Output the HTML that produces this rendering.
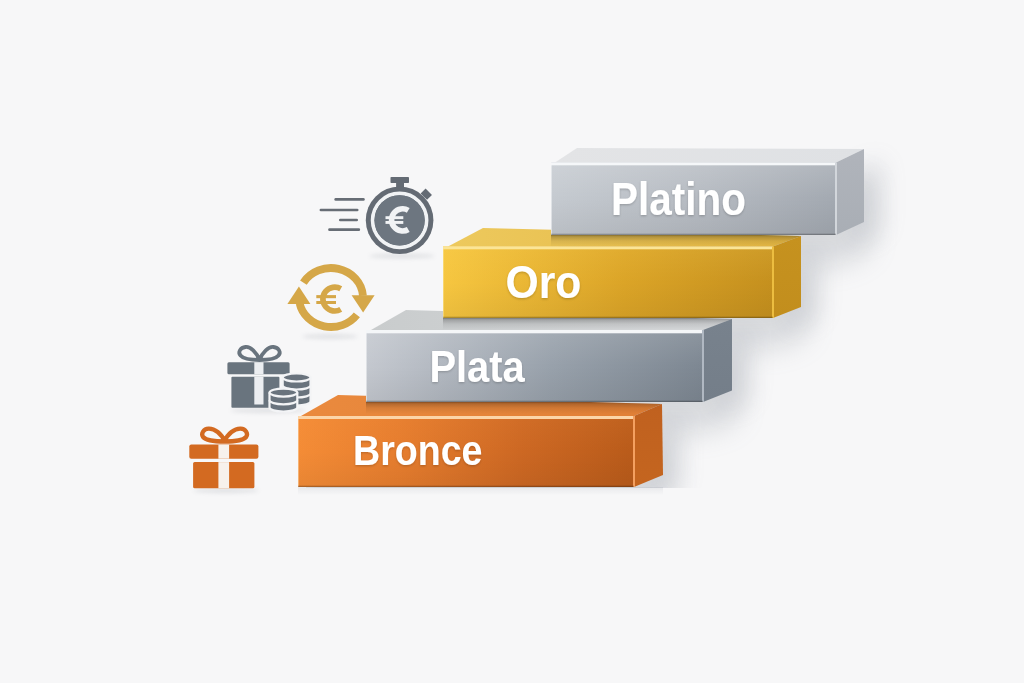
<!DOCTYPE html>
<html><head><meta charset="utf-8">
<style>
html,body{margin:0;padding:0;width:1024px;height:683px;overflow:hidden;background:#f7f7f8;}
svg{display:block;position:absolute;left:0;top:0;}
text{font-family:"Liberation Sans",sans-serif;font-weight:bold;fill:#ffffff;}
</style></head>
<body>
<svg width="1024" height="683" viewBox="0 0 1024 683">
<defs>
<linearGradient id="bronceF" x1="0" y1="0" x2="1" y2="0"><stop offset="0" stop-color="#f48c36"/><stop offset="0.3" stop-color="#e67d2e"/><stop offset="0.66" stop-color="#cd6823"/><stop offset="1" stop-color="#b95b1a"/></linearGradient>
<linearGradient id="bronceV" x1="0" y1="0" x2="0" y2="1"><stop offset="0" stop-color="#ffa050" stop-opacity="0.1"/><stop offset="0.5" stop-color="#ffa050" stop-opacity="0"/><stop offset="0.5" stop-color="#000" stop-opacity="0"/><stop offset="1" stop-color="#000" stop-opacity="0.05"/></linearGradient>
<linearGradient id="bronceT" x1="0" y1="0" x2="1" y2="0"><stop offset="0" stop-color="#ea8a3e"/><stop offset="1" stop-color="#e07f35"/></linearGradient>
<linearGradient id="bronceR" x1="0" y1="0" x2="0" y2="1"><stop offset="0" stop-color="#c0611f"/><stop offset="1" stop-color="#c4651f"/></linearGradient>
<clipPath id="bronceSC"><rect x="306" y="0" width="726" height="488"/></clipPath>
<linearGradient id="plataF" x1="0" y1="0" x2="1" y2="0"><stop offset="0" stop-color="#c4c8cf"/><stop offset="0.55" stop-color="#98a1ab"/><stop offset="1" stop-color="#7d8792"/></linearGradient>
<linearGradient id="plataV" x1="0" y1="0" x2="0" y2="1"><stop offset="0" stop-color="#fff" stop-opacity="0.12"/><stop offset="0.5" stop-color="#fff" stop-opacity="0"/><stop offset="0.5" stop-color="#000" stop-opacity="0"/><stop offset="1" stop-color="#000" stop-opacity="0.06"/></linearGradient>
<linearGradient id="plataT" x1="0" y1="0" x2="1" y2="0"><stop offset="0" stop-color="#c9cccd"/><stop offset="1" stop-color="#d6d8da"/></linearGradient>
<linearGradient id="plataR" x1="0" y1="0" x2="0" y2="1"><stop offset="0" stop-color="#78828d"/><stop offset="1" stop-color="#747e89"/></linearGradient>
<clipPath id="plataSC"><rect x="374" y="0" width="658" height="488"/></clipPath>
<clipPath id="bronceC"><polygon points="301,416 338,395 662,404 634,416"/></clipPath>
<linearGradient id="plataCS" x1="0" y1="0" x2="0" y2="1"><stop offset="0" stop-color="#000" stop-opacity="0.42"/><stop offset="0.15" stop-color="#000" stop-opacity="0.22"/><stop offset="0.5" stop-color="#000" stop-opacity="0.08"/><stop offset="1" stop-color="#000" stop-opacity="0"/></linearGradient>
<linearGradient id="oroF" x1="0" y1="0" x2="1" y2="0"><stop offset="0" stop-color="#f6c640"/><stop offset="0.55" stop-color="#dba427"/><stop offset="1" stop-color="#c5901e"/></linearGradient>
<linearGradient id="oroV" x1="0" y1="0" x2="0" y2="1"><stop offset="0" stop-color="#ffd860" stop-opacity="0.16"/><stop offset="0.5" stop-color="#ffd860" stop-opacity="0"/><stop offset="0.5" stop-color="#000" stop-opacity="0"/><stop offset="1" stop-color="#000" stop-opacity="0.05"/></linearGradient>
<linearGradient id="oroT" x1="0" y1="0" x2="1" y2="0"><stop offset="0" stop-color="#edc95d"/><stop offset="1" stop-color="#e3b541"/></linearGradient>
<linearGradient id="oroR" x1="0" y1="0" x2="0" y2="1"><stop offset="0" stop-color="#c6921f"/><stop offset="1" stop-color="#c28e1d"/></linearGradient>
<clipPath id="oroSC"><rect x="451" y="0" width="581" height="488"/></clipPath>
<clipPath id="plataC"><polygon points="371,330 406,310 732,319 703,330"/></clipPath>
<linearGradient id="oroCS" x1="0" y1="0" x2="0" y2="1"><stop offset="0" stop-color="#000" stop-opacity="0.42"/><stop offset="0.15" stop-color="#000" stop-opacity="0.22"/><stop offset="0.5" stop-color="#000" stop-opacity="0.08"/><stop offset="1" stop-color="#000" stop-opacity="0"/></linearGradient>
<linearGradient id="platinoF" x1="0" y1="0" x2="1" y2="0"><stop offset="0" stop-color="#c5cad0"/><stop offset="0.55" stop-color="#b5bac1"/><stop offset="1" stop-color="#a3a9b1"/></linearGradient>
<linearGradient id="platinoV" x1="0" y1="0" x2="0" y2="1"><stop offset="0" stop-color="#fff" stop-opacity="0.16"/><stop offset="0.5" stop-color="#fff" stop-opacity="0"/><stop offset="0.5" stop-color="#000" stop-opacity="0"/><stop offset="1" stop-color="#000" stop-opacity="0.06"/></linearGradient>
<linearGradient id="platinoT" x1="0" y1="0" x2="1" y2="0"><stop offset="0" stop-color="#e3e4e6"/><stop offset="1" stop-color="#dfe1e4"/></linearGradient>
<linearGradient id="platinoR" x1="0" y1="0" x2="0" y2="1"><stop offset="0" stop-color="#b0b4bb"/><stop offset="1" stop-color="#a9aeb5"/></linearGradient>
<clipPath id="platinoSC"><rect x="559" y="0" width="473" height="488"/></clipPath>
<clipPath id="oroC"><polygon points="448,246.5 483,228 801,236 773,246.5"/></clipPath>
<linearGradient id="platinoCS" x1="0" y1="0" x2="0" y2="1"><stop offset="0" stop-color="#000" stop-opacity="0.42"/><stop offset="0.15" stop-color="#000" stop-opacity="0.22"/><stop offset="0.5" stop-color="#000" stop-opacity="0.08"/><stop offset="1" stop-color="#000" stop-opacity="0"/></linearGradient>
<filter id="ts" x="-10%" y="-20%" width="120%" height="150%"><feDropShadow dx="0" dy="1.2" stdDeviation="1.2" flood-color="#000" flood-opacity="0.2"/></filter>
<filter id="sh" x="-30%" y="-30%" width="160%" height="160%"><feGaussianBlur stdDeviation="14"/></filter>
<filter id="sh2" x="-50%" y="-30%" width="200%" height="160%"><feGaussianBlur stdDeviation="12"/></filter>
<filter id="isb" x="-20%" y="-200%" width="140%" height="500%"><feGaussianBlur stdDeviation="2.2"/></filter>
<linearGradient id="floorcs" x1="0" y1="0" x2="0" y2="1"><stop offset="0" stop-color="#7d8490" stop-opacity="0.12"/><stop offset="1" stop-color="#7d8490" stop-opacity="0"/></linearGradient>
<clipPath id="floor"><rect x="0" y="0" width="1024" height="488"/></clipPath>
</defs>
<rect width="1024" height="683" fill="#f7f7f8"/>
<g clip-path="url(#floor)"><g fill="#7d8490" opacity="0.25">
<g clip-path="url(#bronceSC)"><polygon points="298,416 338,395 662,404 663,475 634,487 298,487" transform="translate(6,30)" filter="url(#sh)"/></g>
<g clip-path="url(#plataSC)"><polygon points="366,330 406,310 732,319 732,390.5 703,402 366,402" transform="translate(6,30)" filter="url(#sh)"/></g>
<g clip-path="url(#oroSC)"><polygon points="443,246.5 483,228 801,236 801,307 773,318 443,318" transform="translate(6,30)" filter="url(#sh)"/></g>
<g clip-path="url(#platinoSC)"><polygon points="551,162.5 577,148 864,149 864,222 836,235 551,235" transform="translate(6,30)" filter="url(#sh)"/></g>
</g>
<g filter="url(#sh2)" fill="#7d8490" opacity="0.2">
<polygon points="634,416 662,404 663,475 634,487" transform="translate(18,10)"/>
<polygon points="703,330 732,319 732,390.5 703,402" transform="translate(18,10)"/>
<polygon points="773,246.5 801,236 801,307 773,318" transform="translate(18,10)"/>
<polygon points="836,162.5 864,149 864,222 836,235" transform="translate(18,10)"/>
</g></g>
<rect x="298" y="487" width="365" height="8" fill="url(#floorcs)"/>
<!-- Bronce block -->
<g>
  <polygon points="301,416 338,395 662,404 634,416" fill="url(#bronceT)"/>
  <polygon points="634,416 662,404 663,475 634,487" fill="url(#bronceR)"/>
  <rect x="298" y="416" width="336" height="71" fill="url(#bronceF)"/>
  <rect x="298" y="416" width="336" height="71" fill="url(#bronceV)"/>
  <rect x="298" y="416" width="336" height="3" fill="#fcd5a8"/>
  <rect x="633" y="416" width="2" height="71" fill="#f4a060"/>
  <rect x="298" y="416" width="1" height="71" fill="#fcd5a8" opacity="0.55"/>
  <rect x="298" y="485.7" width="336" height="1.3" fill="#000" opacity="0.25"/>
  <text x="353" y="465.3" font-size="43" textLength="129.5" lengthAdjust="spacingAndGlyphs" filter="url(#ts)">Bronce</text>
</g>
<rect x="366" y="402" width="377" height="12" fill="url(#plataCS)" clip-path="url(#bronceC)"/>
<!-- Plata block -->
<g>
  <polygon points="371,330 406,310 732,319 703,330" fill="url(#plataT)"/>
  <polygon points="703,330 732,319 732,390.5 703,402" fill="url(#plataR)"/>
  <rect x="366" y="330" width="337" height="72" fill="url(#plataF)"/>
  <rect x="366" y="330" width="337" height="72" fill="url(#plataV)"/>
  <rect x="366" y="330" width="337" height="3.3000000000000114" fill="#f4f6f8"/>
  <rect x="702" y="330" width="2" height="72" fill="#b0b8c2"/>
  <rect x="366" y="330" width="1" height="72" fill="#f4f6f8" opacity="0.55"/>
  <rect x="366" y="400.7" width="337" height="1.3" fill="#000" opacity="0.25"/>
  <text x="429.4" y="382" font-size="45" textLength="95.4" lengthAdjust="spacingAndGlyphs" filter="url(#ts)">Plata</text>
</g>
<rect x="443" y="318" width="370" height="12" fill="url(#oroCS)" clip-path="url(#plataC)"/>
<!-- Oro block -->
<g>
  <polygon points="448,246.5 483,228 801,236 773,246.5" fill="url(#oroT)"/>
  <polygon points="773,246.5 801,236 801,307 773,318" fill="url(#oroR)"/>
  <rect x="443" y="246.5" width="330" height="71.5" fill="url(#oroF)"/>
  <rect x="443" y="246.5" width="330" height="71.5" fill="url(#oroV)"/>
  <rect x="443" y="246.5" width="330" height="2.8000000000000114" fill="#fbe597"/>
  <rect x="772" y="246.5" width="2" height="71.5" fill="#ecbd40"/>
  <rect x="443" y="246.5" width="1" height="71.5" fill="#fbe597" opacity="0.55"/>
  <rect x="443" y="316.7" width="330" height="1.3" fill="#000" opacity="0.25"/>
  <text x="505.4" y="297.5" font-size="46.5" textLength="76" lengthAdjust="spacingAndGlyphs" filter="url(#ts)">Oro</text>
</g>
<rect x="551" y="235" width="325" height="12" fill="url(#platinoCS)" clip-path="url(#oroC)"/>
<!-- Platino block -->
<g>
  <polygon points="555,162.5 577,148 864,149 836,162.5" fill="url(#platinoT)"/>
  <polygon points="836,162.5 864,149 864,222 836,235" fill="url(#platinoR)"/>
  <rect x="551" y="162.5" width="285" height="72.5" fill="url(#platinoF)"/>
  <rect x="551" y="162.5" width="285" height="72.5" fill="url(#platinoV)"/>
  <rect x="551" y="162.5" width="285" height="2.8000000000000114" fill="#f5f7f9"/>
  <rect x="835" y="162.5" width="2" height="72.5" fill="#d2d6db"/>
  <rect x="551" y="162.5" width="1" height="72.5" fill="#f5f7f9" opacity="0.55"/>
  <rect x="551" y="233.7" width="285" height="1.3" fill="#000" opacity="0.25"/>
  <text x="611" y="214.6" font-size="45.5" textLength="135" lengthAdjust="spacingAndGlyphs" filter="url(#ts)">Platino</text>
</g>

<!-- icon ground shadows -->
<g fill="#8a909a" opacity="0.22" filter="url(#isb)">
  <ellipse cx="402" cy="256" rx="33" ry="2.2"/>
  <ellipse cx="330" cy="336.5" rx="28" ry="2.2"/>
  <ellipse cx="268" cy="410.5" rx="38" ry="2.2"/>
  <ellipse cx="226" cy="490.5" rx="33" ry="2.2"/>
</g>
<!-- Stopwatch icon -->
<g>
  <g stroke="#676d75" stroke-width="2.7" stroke-linecap="round">
    <line x1="335.7" y1="199.4" x2="363.4" y2="199.4"/>
    <line x1="320.9" y1="210" x2="357.2" y2="210"/>
    <line x1="340.3" y1="220" x2="356.7" y2="220"/>
    <line x1="329.5" y1="229.7" x2="358.8" y2="229.7"/>
  </g>
  <rect x="390.5" y="177" width="18.5" height="6" rx="0.8" fill="#646b74"/>
  <rect x="396.1" y="182" width="7.9" height="7" fill="#646b74"/>
  <rect x="-4.5" y="-3.5" width="9" height="7" fill="#646b74" transform="translate(426.3,194.2) rotate(45)"/>
  <circle cx="399.6" cy="220.3" r="33.8" fill="#646b74"/>
  <circle cx="399.6" cy="220.3" r="27" fill="none" stroke="#f1f3f5" stroke-width="3.7"/>
  <circle cx="399.6" cy="220.3" r="25.1" fill="#6d7680"/>
  <path d="M408.25 210.3 A11.1 11.1 0 1 0 408.25 229.5" fill="none" stroke="#f1f3f5" stroke-width="5.6"/>
  <rect x="385.5" y="216.2" width="17.8" height="2.9" fill="#f1f3f5"/>
  <rect x="385.5" y="221" width="17.8" height="2.9" fill="#f1f3f5"/>
</g>

<!-- Exchange icon -->
<g fill="#d5a748">
  <path d="M303.4 282.6 A32 29.5 0 0 1 362.94 295.7" fill="none" stroke="#d5a748" stroke-width="7.8"/>
  <polygon points="351.6,295.2 374.6,295.2 363.1,312.6"/>
  <path d="M356.85 314.88 A32 29.5 0 0 1 299.64 303.4" fill="none" stroke="#d5a748" stroke-width="7.8"/>
  <polygon points="287.4,303.9 310.4,303.9 298.9,286.4"/>
  <path d="M340.75 288.8 A11.9 11.9 0 1 0 340.75 309.4" fill="none" stroke="#d5a748" stroke-width="5.7"/>
  <rect x="316.3" y="295.1" width="19.7" height="3.1"/>
  <rect x="316.3" y="301" width="19.7" height="3.0"/>
</g>

<!-- Gift + coins icon -->
<g>
  <path transform="translate(259.5,360)" d="M0 0 C-3 -8 -9 -13.5 -14 -13 C-19 -12.5 -22 -8 -19 -4.5 C-16 -1 -6 0 0 0 Z M0 0 C3 -8 9 -13.5 14 -13 C19 -12.5 22 -8 19 -4.5 C16 -1 6 0 0 0 Z" fill="none" stroke="#69747e" stroke-width="3.8" stroke-linejoin="round"/>
  <rect x="227.4" y="362.2" width="62.2" height="12" rx="1.5" fill="#69747e"/>
  <rect x="231.4" y="376.7" width="48" height="31.1" rx="1" fill="#69747e"/>
  <rect x="254.3" y="362.2" width="9.2" height="12" fill="#eceef1"/>
  <rect x="254.3" y="376.7" width="9.2" height="27.8" fill="#eceef1"/>
  <!-- back coin stack -->
  <g stroke="#f3f4f6" stroke-width="2.2">
    <path d="M282.7 377.5 A13.9 4 0 0 1 310.5 377.5 L310.5 401.5 A13.9 4 0 0 1 282.7 401.5 Z" fill="#69737d"/>
    <path d="M282.7 377.5 A13.9 4 0 0 0 310.5 377.5 M282.7 385.5 A13.9 4 0 0 0 310.5 385.5 M282.7 393.5 A13.9 4 0 0 0 310.5 393.5" fill="none"/>
    <path d="M269.5 392.6 A13.9 4 0 0 1 297.3 392.6 L297.3 407.5 A13.9 4 0 0 1 269.5 407.5 Z" fill="#69737d"/>
    <path d="M269.5 392.6 A13.9 4 0 0 0 297.3 392.6 M269.5 400.3 A13.9 4 0 0 0 297.3 400.3" fill="none"/>
  </g>
</g>

<!-- Orange gift icon -->
<g>
  <path transform="translate(224.6,441.5)" d="M0 0 C-3 -8 -10 -13 -16 -12.8 C-21 -12.5 -24 -8 -21.5 -4.5 C-18.5 -1 -7 0 0 0 Z M0 0 C3 -8 10 -13 16 -12.8 C21 -12.5 24 -8 21.5 -4.5 C18.5 -1 7 0 0 0 Z" fill="none" stroke="#d36a21" stroke-width="4.3" stroke-linejoin="round"/>
  <rect x="189.3" y="444.6" width="69.1" height="14.1" rx="2" fill="#d36a21"/>
  <rect x="193.1" y="462.1" width="61.3" height="26.2" rx="1.5" fill="#d36a21"/>
  <rect x="218.4" y="444.6" width="10.7" height="14.1" fill="#f7f1ec"/>
  <rect x="218.4" y="462.1" width="10.7" height="26.2" fill="#f7f1ec"/>
</g>

</svg>
</body></html>
